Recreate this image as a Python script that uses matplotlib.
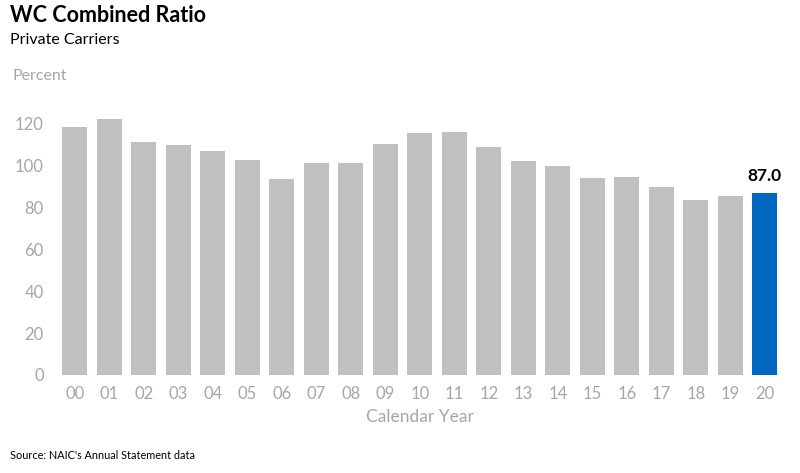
import matplotlib
matplotlib.use("Agg")
import matplotlib.pyplot as plt

years = ["00", "01", "02", "03", "04", "05", "06", "07", "08", "09", "10",
         "11", "12", "13", "14", "15", "16", "17", "18", "19", "20"]
ratios = [118.4, 122.0, 110.9, 109.7, 106.9, 102.5, 93.4, 100.9, 101.2, 110.3, 115.4,
          115.7, 108.5, 101.9, 99.8, 93.9, 94.2, 89.5, 83.4, 85.5, 87.0]
yticks = [0, 20, 40, 60, 80, 100, 120]

plt.rcParams['font.family'] = ['Lato', 'DejaVu Sans']

gray = "#c0c0c0"
blue = "#0066c0"
tick_gray = "#a6a6a6"

fig = plt.figure(figsize=(8, 4.73), dpi=100)
ax = fig.add_axes([0.0719, 0.2072, 0.9056, 0.6207])

colors = [gray] * (len(years) - 1) + [blue]
x = list(range(len(years)))
bars = ax.bar(x, ratios, width=0.73, color=colors, edgecolor="none")
ax.set_xlim(-0.5, len(years) - 0.5)
ax.set_ylim(0, 140)
ax.set_yticks(yticks)
ax.set_xticks(x)
ax.set_xticklabels(years)
ax.tick_params(axis="both", length=0, colors=tick_gray, labelsize=12)
ax.tick_params(axis="x", pad=8)
ax.tick_params(axis="y", pad=10)
for s in ax.spines.values():
    s.set_visible(False)

ax.annotate(f"{ratios[-1]:.1f}", xy=(x[-1], ratios[-1]), xytext=(0, 6),
            textcoords="offset points", ha="center", va="bottom",
            fontsize=12.5, fontweight="bold", color="black")

fig.text(10/800, 1 - 16/473, "WC Combined Ratio", fontsize=15.5, fontweight="bold",
         va="center", ha="left", color="black")
fig.text(10/800, 1 - 40/473, "Private Carriers", fontsize=11.5,
         va="center", ha="left", color="black")
fig.text(12/800, 1 - 76/473, "Percent", fontsize=11.5, va="center", ha="left",
         color=tick_gray)
fig.text(420/800, 1 - 417/473, "Calendar Year", fontsize=12.5, va="center",
         ha="center", color=tick_gray)
fig.text(10/800, 1 - 455/473, "Source: NAIC's Annual Statement data", fontsize=7.8,
         va="center", ha="left", color="black")

fig.savefig("out.png", dpi=100)
